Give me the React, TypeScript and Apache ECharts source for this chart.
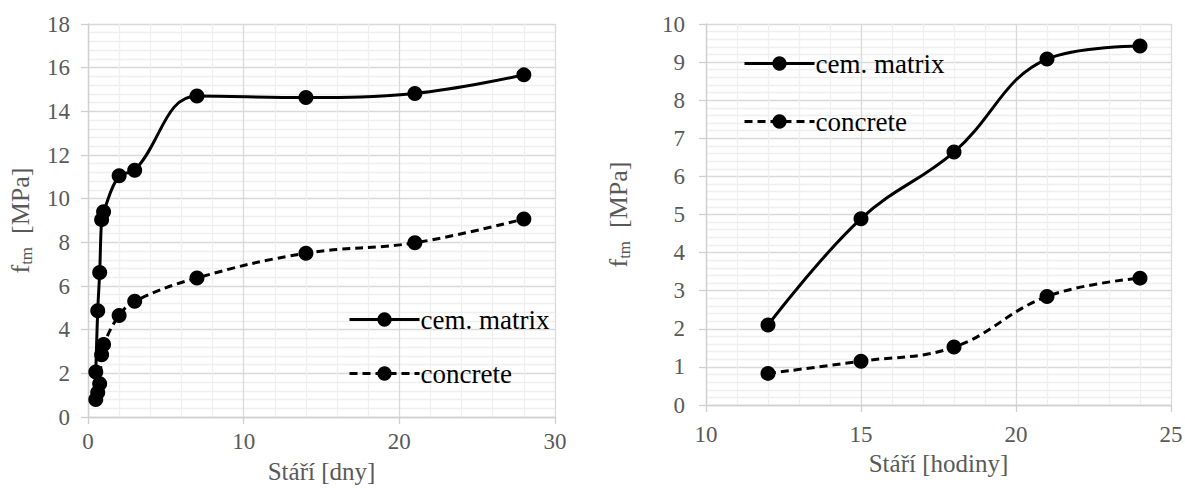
import React, { useEffect, useRef } from "react";
import * as echarts from "echarts";

const daysX = [0.5, 0.625, 0.75, 0.875, 1, 2, 3, 7, 14, 21, 28];
const cemDays = [2.06, 4.87, 6.62, 9.04, 9.4, 11.05, 11.3, 14.7, 14.63, 14.82, 15.67];
const concDays = [0.8, 1.12, 1.52, 2.85, 3.32, 4.65, 5.3, 6.37, 7.5, 7.98, 9.07];

const hoursX = [12, 15, 18, 21, 24];
const cemHours = [2.1, 4.89, 6.64, 9.08, 9.42];
const concHours = [0.83, 1.15, 1.52, 2.85, 3.33];

const seriesNames = ["cem. matrix", "concrete"];
const xTitles = ["Stáří [dny]", "Stáří [hodiny]"];

const FONT = "Times New Roman, Liberation Serif, DejaVu Serif, serif";
const GRAY = "#595959";

export default function App() {
  const ref = useRef<HTMLDivElement>(null);
  useEffect(() => {
    document.body.style.margin = "0";
    const chart = echarts.init(ref.current!, null, { renderer: "svg" });
    const axisCommon = {
      axisLine: { show: true, lineStyle: { color: "#d0d0d0", width: 1.3 } },
      axisTick: { show: true, length: 7, lineStyle: { color: "#d0d0d0", width: 1.3 } },
      splitLine: { show: true, lineStyle: { color: "#d9d9d9", width: 1.3 } },
      minorTick: { show: false, splitNumber: 5 },
      minorSplitLine: { show: true, lineStyle: { color: "#efefef", width: 1.3 } },
      axisLabel: { color: GRAY, fontFamily: FONT, fontSize: 23 },
      nameTextStyle: { color: GRAY, fontFamily: FONT, fontSize: 25 },
    };
    const yName = "{a|f}{b|tm}{a|  [MPa]}";
    const yRich = {
      a: { color: GRAY, fontFamily: FONT, fontSize: 26 },
      b: { color: GRAY, fontFamily: FONT, fontSize: 17, verticalAlign: "bottom", padding: [12, 0, 0, 0] },
    };
    const lineSeries = (name: string, xs: number[], ys: number[], idx: number, dashed: boolean) => ({
      type: "line",
      name,
      xAxisIndex: idx,
      yAxisIndex: idx,
      data: xs.map((x, i) => [x, ys[i]]),
      smooth: 0.4,
      symbol: "circle",
      symbolSize: 15,
      showSymbol: true,
      itemStyle: { color: "#000" },
      lineStyle: { color: "#000", width: 3, type: dashed ? [8, 5] : "solid" },
      z: dashed ? 2 : 3,
    });
    const legendCommon = {
      data: seriesNames,
      orient: "vertical",
      itemWidth: 70,
      itemHeight: 18,
      textStyle: { color: "#000", fontFamily: FONT, fontSize: 27, padding: [0, 0, 0, -4] },
      selectedMode: false,
      lineStyle: { width: 3 },
    };
    chart.setOption({
      animation: false,
      backgroundColor: "#fff",
      textStyle: { fontFamily: FONT },
      grid: [
        { left: 88, right: 630, top: 24, bottom: 71, containLabel: false, outerBoundsMode: "none" },
        { left: 706, right: 14, top: 24, bottom: 83, containLabel: false, outerBoundsMode: "none" },
      ],
      xAxis: [
        {
          ...axisCommon,
          type: "value",
          gridIndex: 0,
          min: 0,
          max: 30,
          interval: 10,
          axisLabel: { ...axisCommon.axisLabel, margin: 13 },
          name: xTitles[0],
          nameLocation: "middle",
          nameGap: 42,
        },
        {
          ...axisCommon,
          type: "value",
          gridIndex: 1,
          min: 10,
          max: 25,
          interval: 5,
          axisLabel: { ...axisCommon.axisLabel, margin: 18 },
          name: xTitles[1],
          nameLocation: "middle",
          nameGap: 42,
        },
      ],
      yAxis: [
        {
          ...axisCommon,
          type: "value",
          gridIndex: 0,
          min: 0,
          max: 18,
          interval: 2,
          axisLabel: { ...axisCommon.axisLabel, margin: 18 },
          name: yName,
          nameLocation: "middle",
          nameGap: 53,
          nameTextStyle: { ...axisCommon.nameTextStyle, rich: yRich },
        },
        {
          ...axisCommon,
          type: "value",
          gridIndex: 1,
          min: 0,
          max: 10,
          interval: 1,
          axisLabel: { ...axisCommon.axisLabel, margin: 21 },
          name: yName,
          nameLocation: "middle",
          nameGap: 73,
          nameTextStyle: { ...axisCommon.nameTextStyle, rich: yRich },
        },
      ],
      legend: [
        { ...legendCommon, left: 343, top: 301, itemGap: 27 },
        { ...legendCommon, left: 738, top: 45, itemGap: 31 },
      ],
      series: [
        lineSeries(seriesNames[0], daysX, cemDays, 0, false),
        lineSeries(seriesNames[1], daysX, concDays, 0, true),
        lineSeries(seriesNames[0], hoursX, cemHours, 1, false),
        lineSeries(seriesNames[1], hoursX, concHours, 1, true),
      ],
    });
    return () => chart.dispose();
  }, []);
  return <div ref={ref} style={{ width: 1185, height: 488 }} />;
}
